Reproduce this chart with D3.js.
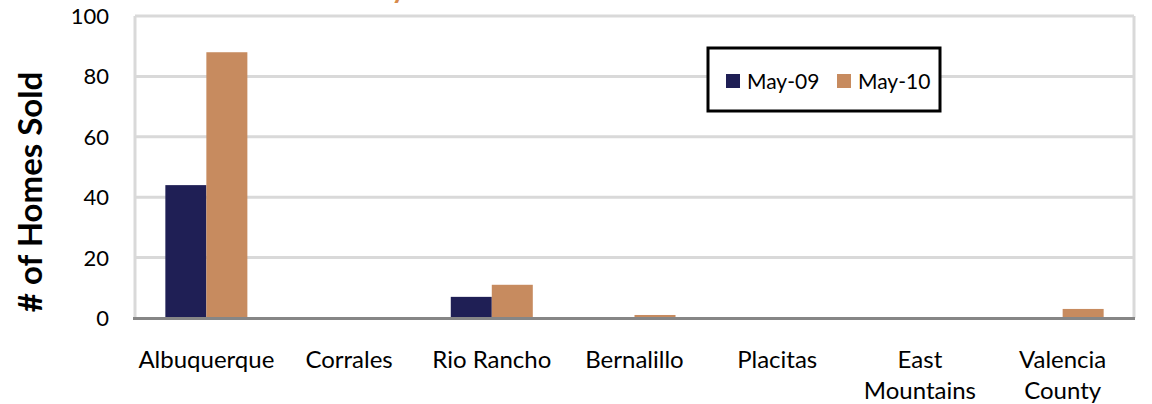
<!DOCTYPE html>
<html>
<head>
<meta charset="utf-8">
<script src="https://cdn.jsdelivr.net/npm/d3@7"></script>
<style>
  body { margin: 0; background: #fff; }
  svg { display: block; font-family: Lato, "Open Sans", sans-serif; }
</style>
</head>
<body>
<svg id="chart" width="1152" height="404"></svg>
<script>
'use strict';

// chart data
const categories = ['Albuquerque', 'Corrales', 'Rio Rancho', 'Bernalillo', 'Placitas', 'East Mountains', 'Valencia County'];
const categoryLines = [['Albuquerque'], ['Corrales'], ['Rio Rancho'], ['Bernalillo'], ['Placitas'], ['East', 'Mountains'], ['Valencia', 'County']];
const seriesNames = ['May-09', 'May-10'];
const may09 = [44, 0, 7, 0, 0, 0, 0];
const may10 = [88, 0, 11, 1, 0, 0, 3];
const yTicks = [0, 20, 40, 60, 80, 100];
const colors = ['#1f1f55', '#c78b5f'];

const margin = { top: 16, right: 18, bottom: 85, left: 135 };
const width = 1152, height = 404;

const svg = d3.select('#chart');

/* title, cut off at the very top in the original */
svg.append('text')
  .attr('x', 406).attr('y', -2)
  .attr('text-anchor', 'end')
  .attr('font-size', 28).attr('font-weight', 'bold')
  .attr('fill', '#d68a4c')
  .text('Monthly');

const x = d3.scaleBand()
  .domain(categories)
  .range([margin.left, width - margin.right])
  .paddingInner(0).paddingOuter(0);

const xs = d3.scaleBand()
  .domain(seriesNames)
  .range([0, x.bandwidth()])
  .paddingInner(0).paddingOuter(0.74);

const y = d3.scaleLinear()
  .domain([0, 100])
  .range([height - margin.bottom - 1, margin.top]);

// gridlines
svg.append('g')
  .selectAll('line')
  .data(yTicks.filter(d => d > 0))
  .enter().append('line')
  .attr('x1', margin.left).attr('x2', width - margin.right)
  .attr('y1', d => y(d)).attr('y2', d => y(d))
  .attr('stroke', '#d9d9d9').attr('stroke-width', 3);

// plot area frame (left and right)
svg.append('line')
  .attr('x1', margin.left).attr('x2', margin.left)
  .attr('y1', y(100)).attr('y2', y(0))
  .attr('stroke', '#d9d9d9').attr('stroke-width', 3);
svg.append('line')
  .attr('x1', width - margin.right).attr('x2', width - margin.right)
  .attr('y1', y(100)).attr('y2', y(0))
  .attr('stroke', '#d9d9d9').attr('stroke-width', 3);

// y tick labels
svg.append('g')
  .selectAll('text')
  .data(yTicks)
  .enter().append('text')
  .attr('x', 109)
  .attr('y', d => y(d))
  .attr('dy', '0.36em')
  .attr('text-anchor', 'end')
  .attr('font-size', 22)
  .attr('fill', '#000')
  .text(d => d);

// bars
const series = [may09, may10];
const groups = svg.append('g')
  .selectAll('g')
  .data(categories)
  .enter().append('g')
  .attr('transform', d => 'translate(' + x(d) + ',0)');

groups.selectAll('rect')
  .data((d, i) => seriesNames.map((s, j) => ({ s: s, v: series[j][i], c: colors[j] })))
  .enter().append('rect')
  .attr('x', d => xs(d.s))
  .attr('width', xs.bandwidth())
  .attr('y', d => y(d.v))
  .attr('height', d => y(0) - y(d.v))
  .attr('fill', d => d.c);

// x axis line
svg.append('line')
  .attr('x1', margin.left - 2).attr('x2', width - margin.right + 1)
  .attr('y1', y(0) + 0.5).attr('y2', y(0) + 0.5)
  .attr('stroke', '#868686').attr('stroke-width', 3);

// category labels
const catLabels = svg.append('g')
  .selectAll('text')
  .data(categories)
  .enter().append('text')
  .attr('x', d => x(d) + x.bandwidth() / 2)
  .attr('y', 368)
  .attr('text-anchor', 'middle')
  .attr('font-size', 24)
  .attr('fill', '#000');
catLabels.selectAll('tspan')
  .data((d, i) => categoryLines[i])
  .enter().append('tspan')
  .attr('x', function () { return d3.select(this.parentNode).attr('x'); })
  .attr('dy', (d, i) => i === 0 ? 0 : 31)
  .text(d => d);

// y axis title
svg.append('text')
  .attr('transform', 'translate(42,' + 192 + ') rotate(-90)')
  .attr('text-anchor', 'middle')
  .attr('font-size', 33)
  .attr('font-weight', 'bold')
  .attr('fill', '#000')
  .text('# of Homes Sold');

// legend
const legend = svg.append('g').attr('transform', 'translate(708,48)');
legend.append('rect')
  .attr('width', 232).attr('height', 63)
  .attr('fill', '#fff')
  .attr('stroke', '#000').attr('stroke-width', 3);
const legendX = [18, 129];
seriesNames.forEach((s, i) => {
  legend.append('rect')
    .attr('x', legendX[i]).attr('y', 26)
    .attr('width', 14).attr('height', 14)
    .attr('fill', colors[i]);
  legend.append('text')
    .attr('x', legendX[i] + 21).attr('y', 33)
    .attr('dy', '0.36em')
    .attr('font-size', 21)
    .attr('fill', '#000')
    .text(s);
});
</script>
</body>
</html>
